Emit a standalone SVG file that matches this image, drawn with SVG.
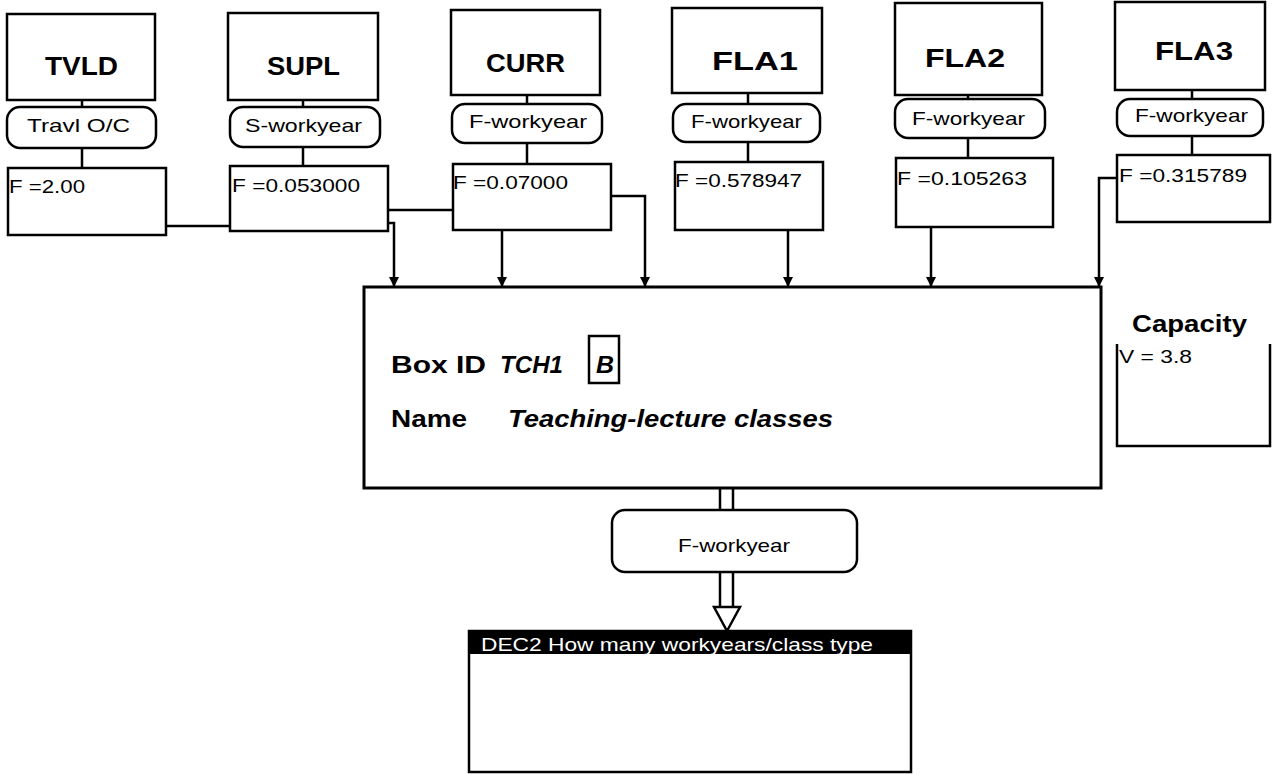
<svg xmlns="http://www.w3.org/2000/svg" width="1272" height="774" viewBox="0 0 1272 774">
<style>
.bx{fill:#fff;stroke:#000;stroke-width:2.5}
.pl{fill:#fff;stroke:#000;stroke-width:2.5}
.ln{fill:none;stroke:#000;stroke-width:2.5}
.t{font-family:"Liberation Sans",Arial,sans-serif;fill:#000}
.h{font-size:25px;font-weight:bold}
.p{font-size:19px}
.f{font-size:19px}
.b{font-size:24px;font-weight:bold}
.bi{font-size:24px;font-weight:bold;font-style:italic}
</style>
<defs>
<marker id="ar" viewBox="0 0 10 10" refX="10" refY="5" markerWidth="10" markerHeight="10" markerUnits="userSpaceOnUse" orient="auto">
<path d="M0,0 L10,5 L0,10 Z" fill="#000"/>
</marker>
</defs>
<rect width="1272" height="774" fill="#fff"/>

<g id="connectors">
<path class="ln" d="M82,100 V107 M82,148 V168"/>
<path class="ln" d="M303,100 V107 M303,147 V166"/>
<path class="ln" d="M527,95 V104 M527,143 V164"/>
<path class="ln" d="M748,93 V104 M748,142 V162"/>
<path class="ln" d="M968,95 V99 M968,138 V158"/>
<path class="ln" d="M1192,90 V99 M1192,136 V155"/>
<path class="ln" d="M166,226 H230"/>
<path class="ln" d="M388,210 H453"/>
<path class="ln" marker-end="url(#ar)" d="M388,223 H394 V287"/>
<path class="ln" marker-end="url(#ar)" d="M502,230 V287"/>
<path class="ln" marker-end="url(#ar)" d="M611,196 H645 V287"/>
<path class="ln" marker-end="url(#ar)" d="M788,230 V287"/>
<path class="ln" marker-end="url(#ar)" d="M931,227 V287"/>
<path class="ln" marker-end="url(#ar)" d="M1117,178 H1099 V287"/>
<path class="ln" d="M720,488 V510 M733,488 V510"/>
<path class="ln" d="M720,572 V608 M733,572 V608"/>
<path fill="#fff" stroke="#000" stroke-width="2.5" d="M714,607 H740 L727,631 Z"/>
</g>

<g id="TVLD">
<rect class="bx" x="7" y="14" width="148" height="86"/>
<text class="t h" x="45" y="75" textLength="73" lengthAdjust="spacingAndGlyphs">TVLD</text>
<rect class="pl" x="7" y="107" width="149" height="41" rx="13"/>
<text class="t p" x="27" y="132" textLength="103" lengthAdjust="spacingAndGlyphs">Travl O/C</text>
<rect class="bx" x="8" y="168" width="158" height="67"/>
<text class="t f" x="9" y="193" textLength="76" lengthAdjust="spacingAndGlyphs">F =2.00</text>
</g>

<g id="SUPL">
<rect class="bx" x="228" y="13" width="150" height="87"/>
<text class="t h" x="267" y="75" textLength="73" lengthAdjust="spacingAndGlyphs">SUPL</text>
<rect class="pl" x="230" y="107" width="150" height="40" rx="13"/>
<text class="t p" x="245" y="132" textLength="117" lengthAdjust="spacingAndGlyphs">S-workyear</text>
<rect class="bx" x="230" y="166" width="158" height="65"/>
<text class="t f" x="232" y="192" textLength="128" lengthAdjust="spacingAndGlyphs">F =0.053000</text>
</g>

<g id="CURR">
<rect class="bx" x="451" y="10" width="149" height="85"/>
<text class="t h" x="486" y="72" textLength="79" lengthAdjust="spacingAndGlyphs">CURR</text>
<rect class="pl" x="452" y="104" width="150" height="39" rx="13"/>
<text class="t p" x="469" y="128" textLength="118" lengthAdjust="spacingAndGlyphs">F-workyear</text>
<rect class="bx" x="453" y="164" width="158" height="66"/>
<text class="t f" x="453" y="189" textLength="115" lengthAdjust="spacingAndGlyphs">F =0.07000</text>
</g>

<g id="FLA1">
<rect class="bx" x="672" y="8" width="150" height="85"/>
<text class="t h" x="712" y="70" textLength="86" lengthAdjust="spacingAndGlyphs">FLA1</text>
<rect class="pl" x="673" y="104" width="147" height="38" rx="13"/>
<text class="t p" x="691" y="128" textLength="111" lengthAdjust="spacingAndGlyphs">F-workyear</text>
<rect class="bx" x="675" y="162" width="148" height="68"/>
<text class="t f" x="675" y="187" textLength="127" lengthAdjust="spacingAndGlyphs">F =0.578947</text>
</g>

<g id="FLA2">
<rect class="bx" x="895" y="3" width="147" height="92"/>
<text class="t h" x="925" y="67" textLength="80" lengthAdjust="spacingAndGlyphs">FLA2</text>
<rect class="pl" x="895" y="99" width="150" height="39" rx="13"/>
<text class="t p" x="912" y="125" textLength="113" lengthAdjust="spacingAndGlyphs">F-workyear</text>
<rect class="bx" x="896" y="158" width="157" height="69"/>
<text class="t f" x="897" y="185" textLength="130" lengthAdjust="spacingAndGlyphs">F =0.105263</text>
</g>

<g id="FLA3">
<rect class="bx" x="1115" y="2" width="150" height="88"/>
<text class="t h" x="1155" y="60" textLength="78" lengthAdjust="spacingAndGlyphs">FLA3</text>
<rect class="pl" x="1117" y="99" width="146" height="37" rx="13"/>
<text class="t p" x="1135" y="122" textLength="113" lengthAdjust="spacingAndGlyphs">F-workyear</text>
<rect class="bx" x="1117" y="155" width="153" height="67"/>
<text class="t f" x="1119" y="182" textLength="128" lengthAdjust="spacingAndGlyphs">F =0.315789</text>
</g>

<g id="TCH1">
<rect fill="#fff" stroke="#000" stroke-width="3" x="364" y="287" width="737" height="201"/>
<text class="t b" x="391" y="373" textLength="95" lengthAdjust="spacingAndGlyphs">Box ID</text>
<text class="t bi" x="500" y="373" textLength="63" lengthAdjust="spacingAndGlyphs">TCH1</text>
<rect fill="none" stroke="#000" stroke-width="2.5" x="589" y="336" width="30" height="47"/>
<text class="t bi" x="596" y="373" textLength="18" lengthAdjust="spacingAndGlyphs">B</text>
<text class="t b" x="391" y="427" textLength="76" lengthAdjust="spacingAndGlyphs">Name</text>
<text class="t bi" x="508" y="427" textLength="325" lengthAdjust="spacingAndGlyphs">Teaching-lecture classes</text>
</g>

<g id="capacity">
<text class="t b" x="1132" y="332" textLength="115" lengthAdjust="spacingAndGlyphs">Capacity</text>
<path class="ln" d="M1117,344 V446 H1270 V344"/>
<text class="t f" x="1119" y="363" textLength="73" lengthAdjust="spacingAndGlyphs">V = 3.8</text>
</g>

<g id="output">
<rect class="pl" x="612" y="510" width="245" height="62" rx="13"/>
<text class="t f" x="678" y="552" textLength="112" lengthAdjust="spacingAndGlyphs">F-workyear</text>
</g>

<g id="DEC2">
<rect fill="#fff" stroke="#000" stroke-width="2.5" x="469" y="631" width="442" height="141"/>
<rect fill="#000" x="469" y="630" width="443" height="24"/>
<text class="t f" x="481" y="651" style="fill:#fff" textLength="392" lengthAdjust="spacingAndGlyphs">DEC2 How many workyears/class type</text>
</g>
</svg>
